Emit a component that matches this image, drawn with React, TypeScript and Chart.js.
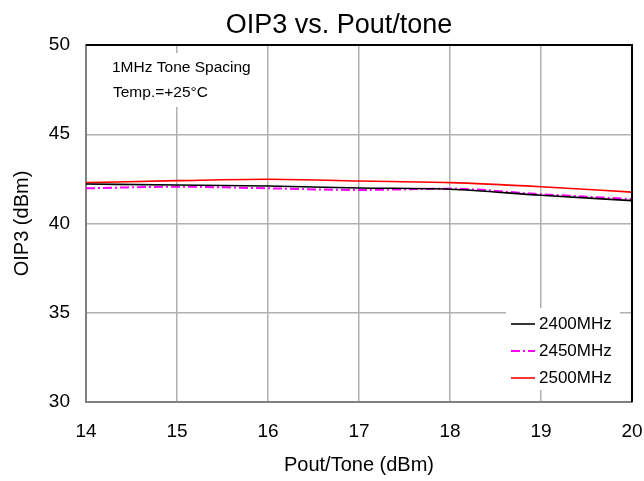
import React, { useEffect, useRef } from "react";
import { Chart, registerables } from "chart.js";

Chart.register(...registerables);

const xValues = [14, 15, 16, 17, 18, 19, 20];
const series2400 = [42.21, 42.16, 42.1, 41.99, 41.92, 41.58, 41.28];
const series2450 = [41.97, 42.06, 41.97, 41.88, 41.95, 41.64, 41.37];
const series2500 = [42.29, 42.4, 42.48, 42.38, 42.29, 42.06, 41.76];
const seriesLabels = ["2400MHz", "2450MHz", "2500MHz"];
const noteLines = ["1MHz Tone Spacing", "Temp.=+25°C"];
const chartTitle = "OIP3 vs. Pout/tone";

const FONT = "'Liberation Sans', Arial, sans-serif";

const colors = ["#000000", "#FF00FF", "#FF0000"];
const dashes: number[][] = [[], [9, 3, 2, 3], []];
const widths = [1.6, 2, 1.6];

const overlayPlugin = {
  id: "overlay",
  afterDraw(chart: any) {
    const ctx = chart.ctx;
    const a = chart.chartArea;
    ctx.save();
    // title
    ctx.fillStyle = "#000";
    ctx.font = "27px " + FONT;
    ctx.textAlign = "center";
    ctx.textBaseline = "middle";
    ctx.fillText(chartTitle, 339, 26);

    // top & right borders
    ctx.strokeStyle = "#000";
    ctx.lineWidth = 2;
    ctx.beginPath();
    ctx.moveTo(a.left, a.top);
    ctx.lineTo(a.right, a.top);
    ctx.lineTo(a.right, a.bottom);
    ctx.stroke();

    // annotation box
    ctx.fillStyle = "#fff";
    ctx.fillRect(a.left + 14, a.top + 8, 86, 54);
    ctx.fillStyle = "#000";
    ctx.font = "15.5px " + FONT;
    ctx.textAlign = "left";
    ctx.fillText(noteLines[0], a.left + 26, a.top + 23);
    ctx.fillText(noteLines[1], a.left + 27, a.top + 48);

    // legend
    const lx = a.right - 126;
    const ly = a.bottom - 94;
    ctx.fillStyle = "#fff";
    ctx.fillRect(lx, ly, 114, 82);
    ctx.font = "17px " + FONT;
    seriesLabels.forEach((lab, i) => {
      const cy = ly + 16 + i * 27;
      ctx.strokeStyle = colors[i];
      ctx.lineWidth = widths[i];
      ctx.setLineDash(dashes[i]);
      ctx.beginPath();
      ctx.moveTo(lx + 5, cy);
      ctx.lineTo(lx + 29, cy);
      ctx.stroke();
      ctx.setLineDash([]);
      ctx.fillStyle = "#000";
      ctx.fillText(lab, lx + 33, cy);
    });
    ctx.restore();
  },
};

export default function App() {
  const ref = useRef<HTMLCanvasElement>(null);
  useEffect(() => {
    if (!ref.current) return;
    const mk = (data: number[], i: number) => ({
      label: seriesLabels[i],
      data: xValues.map((x, k) => ({ x, y: data[k] })),
      borderColor: colors[i],
      backgroundColor: colors[i],
      borderWidth: widths[i],
      borderDash: dashes[i],
      pointRadius: 0,
      tension: 0.4,
      cubicInterpolationMode: "monotone" as const,
      fill: false,
    });
    const chart = new Chart(ref.current, {
      type: "line",
      data: {
        datasets: [mk(series2400, 0), mk(series2450, 1), mk(series2500, 2)],
      },
      plugins: [overlayPlugin],
      options: {
        animation: false,
        responsive: false,
        layout: { padding: { left: 0, right: 12, top: 45, bottom: 0 } },
        plugins: {
          legend: { display: false },
          tooltip: { enabled: false },
          title: { display: false },
        },
        scales: {
          x: {
            type: "linear",
            min: 14,
            max: 20,
            ticks: {
              stepSize: 1,
              color: "#000",
              font: { family: FONT, size: 19 },
              padding: 18,
            },
            grid: { color: "#b0b0b0", lineWidth: 1.5, drawTicks: false },
            border: { color: "#808080", width: 2 },
            title: {
              display: true,
              text: "Pout/Tone (dBm)",
              color: "#000",
              font: { family: FONT, size: 20 },
              padding: { top: 0, bottom: 4 },
            },
            afterFit: (s: any) => {
              s.height = 79;
              s.paddingLeft = 0;
              s.paddingRight = 0;
            },
          },
          y: {
            min: 30,
            max: 50,
            ticks: {
              stepSize: 5,
              color: "#000",
              font: { family: FONT, size: 19 },
              padding: 16,
            },
            grid: { color: "#b0b0b0", lineWidth: 1.5, drawTicks: false },
            border: { color: "#808080", width: 2 },
            title: {
              display: true,
              text: "OIP3 (dBm)",
              color: "#000",
              font: { family: FONT, size: 20 },
              padding: { top: 10, bottom: 0 },
            },
            afterFit: (s: any) => {
              s.width = 86;
              s.paddingTop = 0;
              s.paddingBottom = 0;
            },
          },
        },
      },
    });
    return () => chart.destroy();
  }, []);
  return (
    <div style={{ position: "fixed", left: 0, top: 0, width: 644, height: 481, background: "#fff" }}>
      <canvas ref={ref} width={644} height={481} />
    </div>
  );
}
